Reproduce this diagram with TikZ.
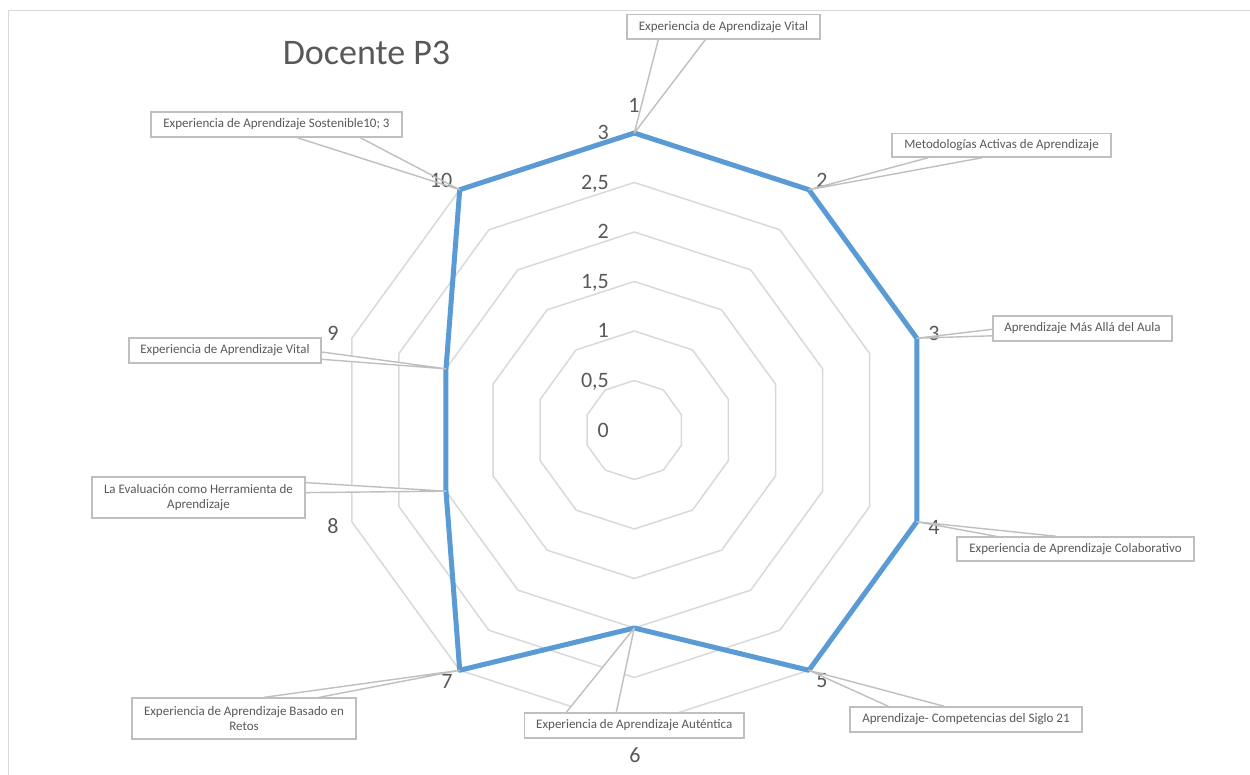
\documentclass[tikz,border=0pt]{standalone}
\usepackage{fontspec}
\setmainfont{Carlito}
\usetikzlibrary{calc}
\definecolor{gridc}{HTML}{D9D9D9}
\definecolor{framec}{HTML}{D9D9D9}
\definecolor{serc}{HTML}{5B9BD5}
\definecolor{leadc}{HTML}{BFBFBF}
\definecolor{txtc}{HTML}{595959}
\pgfdeclarelayer{back}
\pgfdeclarelayer{bg}
\pgfdeclarelayer{lead}
\pgfdeclarelayer{fg}
\pgfsetlayers{back,bg,main,lead,fg}
\tikzset{
  gridline/.style={draw=gridc, line width=1.5pt, line join=round},
  series/.style={draw=serc, line width=5pt, line join=round},
  leader/.style={draw=leadc, line width=1.4pt, line join=round},
  wedgefill/.style={fill=white},
  callout/.style={draw=leadc, fill=white, line width=1.4pt, inner sep=0pt, text=txtc,
    font=\fontsize{13}{15}\selectfont, align=center},
  catlabel/.style={text=txtc, font=\fontsize{22}{26}\selectfont, inner sep=0pt},
  vallabel/.style={text=txtc, font=\fontsize{22}{26}\selectfont, inner sep=0pt, anchor=base east},
  titlelabel/.style={text=txtc, font=\fontsize{36}{42}\selectfont, inner sep=0pt, anchor=base}
}
\begin{document}
\begin{tikzpicture}[x=1pt,y=-1pt]
\useasboundingbox (0,0) rectangle (1250,775);
\clip (0,0) rectangle (1250,775);
\begin{pgfonlayer}{back}
\fill[white] (0,0) rectangle (1250,775);
\draw[framec, line width=1.5pt] (8.5,10.5) rectangle (1265,800);
\end{pgfonlayer}

% title
\node[titlelabel] (title) at (366.5,65) {Docente P3};

% grid rings
\begin{pgfonlayer}{bg}
\foreach \r in {0.5,1,1.5,2,2.5,3} {
  \draw[gridline] (634.3,{430-99*\r}) \foreach \k in {1,...,9} { -- ({634.3+99*\r*sin(\k*36)},{430-99*\r*cos(\k*36)}) } -- cycle;
}
\end{pgfonlayer}

% data vertices
\foreach \k/\v in {1/3,2/3,3/3,4/3,5/3,6/2,7/3,8/2,9/2,10/3}
  \coordinate (v\k) at ({634.3+99*\v*sin((\k-1)*36)},{430-99*\v*cos((\k-1)*36)});

\draw[series] (v1) -- (v2) -- (v3) -- (v4) -- (v5) -- (v6) -- (v7) -- (v8) -- (v9) -- (v10) -- cycle;

% value axis labels
\node[vallabel] (t0) at (609,437) {0};
\node[vallabel] (t1) at (609,387.5) {0,5};
\node[vallabel] (t2) at (609,338) {1};
\node[vallabel] (t3) at (609,288.5) {1,5};
\node[vallabel] (t4) at (609,239) {2};
\node[vallabel] (t5) at (609,189.5) {2,5};
\node[vallabel] (t6) at (609,140) {3};

% category labels
\node[catlabel] (l1) at (634,105) {1};
\node[catlabel] (l2) at (822,180) {2};
\node[catlabel] (l3) at (934,333) {3};
\node[catlabel] (l4) at (934,527) {4};
\node[catlabel] (l5) at (822,681) {5};
\node[catlabel] (l6) at (635,755) {6};
\node[catlabel] (l7) at (447,681) {7};
\node[catlabel] (l8) at (333,526) {8};
\node[catlabel] (l9) at (333,333) {9};
\node[catlabel] (l10) at (441,180) {10};

% callout boxes
\begin{pgfonlayer}{fg}
\node[callout, minimum width=193pt, minimum height=24.5pt] (c1) at (723.5,26.75) {Experiencia de Aprendizaje Vital};
\node[callout, minimum width=219pt, minimum height=23.5pt] (c2) at (1001.5,145.25) {Metodologías Activas de Aprendizaje};
\node[callout, minimum width=179pt, minimum height=25pt] (c3) at (1082.5,328.5) {Aprendizaje Más Allá del Aula};
\node[callout, minimum width=237pt, minimum height=24pt] (c4) at (1075.5,549) {Experiencia de Aprendizaje Colaborativo};
\node[callout, minimum width=232pt, minimum height=25pt] (c5) at (966,719.5) {Aprendizaje- Competencias del Siglo 21};
\node[callout, minimum width=219.5pt, minimum height=25pt] (c6) at (634.25,725.5) {Experiencia de Aprendizaje Auténtica};
\node[callout, minimum width=224pt, minimum height=41pt] (c7) at (244,718.5) {Experiencia de Aprendizaje Basado en\\Retos};
\node[callout, minimum width=213pt, minimum height=41pt] (c8) at (198.5,497.5) {La Evaluación como Herramienta de\\Aprendizaje};
\node[callout, minimum width=192pt, minimum height=25pt] (c9) at (225,350.5) {Experiencia de Aprendizaje Vital};
\node[callout, minimum width=251pt, minimum height=25pt] (c10) at (276.5,124.5) {Experiencia de Aprendizaje Sostenible10; 3};
\end{pgfonlayer}

% leader base points
\coordinate (b1a) at ($(c1.south west)+(32,0)$);
\coordinate (b1b) at ($(c1.south west)+(79,0)$);
\coordinate (b2a) at ($(c2.south west)+(37,0)$);
\coordinate (b2b) at ($(c2.south west)+(91,0)$);
\coordinate (b3a) at ($(c3.north west)+(0,14)$);
\coordinate (b3b) at ($(c3.north west)+(0,20.5)$);
\coordinate (b4a) at ($(c4.north west)+(40,0)$);
\coordinate (b4b) at ($(c4.north west)+(100,0)$);
\coordinate (b5a) at ($(c5.north west)+(39,0)$);
\coordinate (b5b) at ($(c5.north west)+(95,0)$);
\coordinate (b6a) at ($(c6.north west)+(42.5,0)$);
\coordinate (b6b) at ($(c6.north west)+(92.5,0)$);
\coordinate (b7a) at ($(c7.north west)+(133,0)$);
\coordinate (b7b) at ($(c7.north west)+(188,0)$);
\coordinate (b8a) at ($(c8.north east)+(0,6.3)$);
\coordinate (b8b) at ($(c8.north east)+(0,16.3)$);
\coordinate (b9a) at ($(c9.north east)+(0,14.7)$);
\coordinate (b9b) at ($(c9.north east)+(0,22)$);
\coordinate (b10a) at ($(c10.south west)+(147,0)$);
\coordinate (b10b) at ($(c10.south west)+(210,0)$);

% wedges
\foreach \k in {1,...,10} {
  \begin{pgfonlayer}{bg}
    \fill[wedgefill] (b\k a) -- (v\k) -- (b\k b) -- cycle;
  \end{pgfonlayer}
  \begin{pgfonlayer}{lead}
    \draw[leader] (b\k a) -- (v\k) -- (b\k b);
  \end{pgfonlayer}
}
\end{tikzpicture}
\end{document}
